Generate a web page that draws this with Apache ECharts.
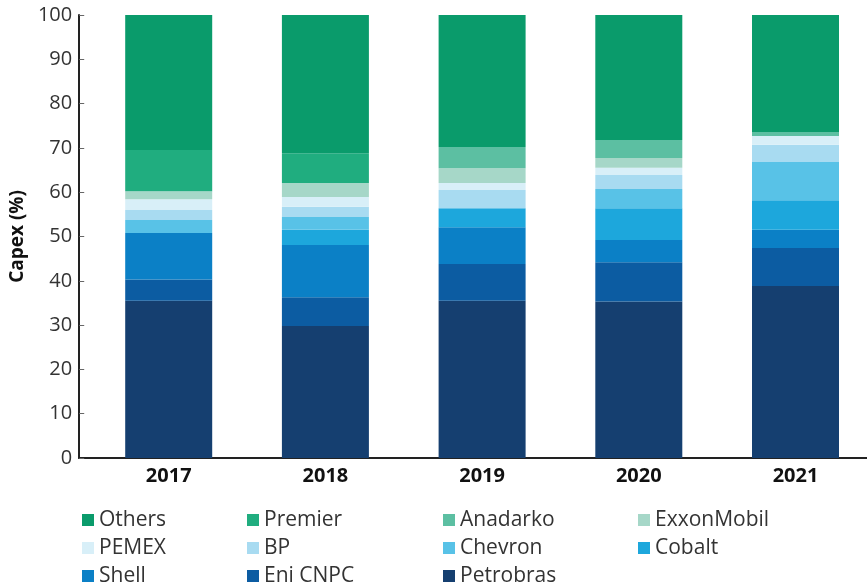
<!DOCTYPE html>
<html>
<head>
<meta charset="utf-8">
<script src="https://cdn.jsdelivr.net/npm/echarts@6/dist/echarts.min.js"></script>
<style>html,body{margin:0;padding:0;background:#fff}#c{width:867px;height:588px}</style>
</head>
<body>
<div id="c"></div>
<script>
const years = ['2017', '2018', '2019', '2020', '2021'];
const yTicks = [0, 10, 20, 30, 40, 50, 60, 70, 80, 90, 100];
// stacked from bottom to top
const petrobras  = [35.5, 29.8, 35.5, 35.3, 38.8];
const eniCnpc    = [4.8, 6.5, 8.3, 8.9, 8.6];
const shell      = [10.5, 11.8, 8.3, 5.0, 4.1];
const cobalt     = [0, 3.4, 4.3, 7.2, 6.7];
const chevron    = [2.9, 2.9, 0, 4.3, 8.6];
const bp         = [2.3, 2.3, 4.1, 3.2, 3.9];
const pemex      = [2.4, 2.2, 1.6, 1.6, 2.0];
const exxonMobil = [1.8, 3.2, 3.3, 2.2, 0];
const anadarko   = [0, 0, 4.8, 4.1, 0.9];
const premier    = [9.3, 6.7, 0, 0, 0];
const others     = [30.5, 31.2, 29.8, 28.2, 26.4];

const seriesNames = ['Petrobras','Eni CNPC','Shell','Cobalt','Chevron','BP','PEMEX','ExxonMobil','Anadarko','Premier','Others'];
const seriesData = [petrobras, eniCnpc, shell, cobalt, chevron, bp, pemex, exxonMobil, anadarko, premier, others];
const colors = {
  'Others':'#0a9b6b','Premier':'#20ad7f','Anadarko':'#5cbfa2','ExxonMobil':'#a6d7c8',
  'PEMEX':'#d8eff8','BP':'#a8dbf1','Chevron':'#58c2e7','Cobalt':'#1da7dc',
  'Shell':'#0b80c6','Eni CNPC':'#0c5ca2','Petrobras':'#153f70'
};
const legendOrder = [
  ['Others','Premier','Anadarko','ExxonMobil'],
  ['PEMEX','BP','Chevron','Cobalt'],
  ['Shell','Eni CNPC','Petrobras']
];
const legendCols = [82, 247, 443, 638];
const legendRows = [520, 548, 576];

const FONT = 'Open Sans';
const legends = [];
legendOrder.forEach((row, r) => row.forEach((name, c) => {
  legends.push({
    data: [name], left: legendCols[c], top: legendRows[r] - 12, padding: 0,
    itemWidth: 12, itemHeight: 12, itemGap: 0, icon: 'rect', selectedMode: false,
    textStyle: { fontFamily: FONT, fontSize: 21, color: '#333', lineHeight: 24, padding: [0,0,0,0] }
  });
}));

// axis geometry: category points sit on ticks (boundaryGap false)
const firstCenter = 168.5, lastCenter = 795.5, axisX = 79;

const chart = echarts.init(document.getElementById('c'), null, { renderer: 'canvas' });
chart.setOption({
  animation: false,
  backgroundColor: '#fff',
  legend: legends,
  grid: [
    { left: firstCenter, top: 15, bottom: 130, width: lastCenter - firstCenter, containLabel: false },
    { left: axisX, right: 0, top: 15, bottom: 130, containLabel: false }
  ],
  xAxis: [
    {
      type: 'category', data: years, gridIndex: 0, boundaryGap: false,
      axisLine: { show: false }, axisTick: { show: false },
      axisLabel: { margin: 8, fontFamily: FONT, fontSize: 20, fontWeight: 'bold', color: '#111' }
    },
    {
      type: 'value', gridIndex: 1, min: 0, max: 1,
      axisLine: { show: true, lineStyle: { color: '#222', width: 2 } },
      axisTick: { show: false }, axisLabel: { show: false }, splitLine: { show: false }
    }
  ],
  yAxis: [
    {
      type: 'value', gridIndex: 0, min: yTicks[0], max: yTicks[yTicks.length - 1], interval: 10,
      offset: firstCenter - axisX,
      name: 'Capex (%)', nameLocation: 'middle', nameGap: 49,
      nameTextStyle: { fontFamily: FONT, fontSize: 19, fontWeight: 'bold', color: '#111' },
      axisLine: { show: true, lineStyle: { color: '#222', width: 2 } },
      axisTick: { show: true, inside: true, length: 5, lineStyle: { color: '#666', width: 1 } },
      axisLabel: { margin: 7, fontFamily: FONT, fontSize: 20, color: '#333' },
      splitLine: { show: false }
    },
    { type: 'value', gridIndex: 1, show: false }
  ],
  series: seriesNames.map((name, i) => ({
    name, type: 'bar', stack: 'total', xAxisIndex: 0, yAxisIndex: 0,
    barWidth: 87, clip: false, data: seriesData[i],
    itemStyle: { color: colors[name] },
    emphasis: { disabled: true }
  }))
});
</script>
</body>
</html>
